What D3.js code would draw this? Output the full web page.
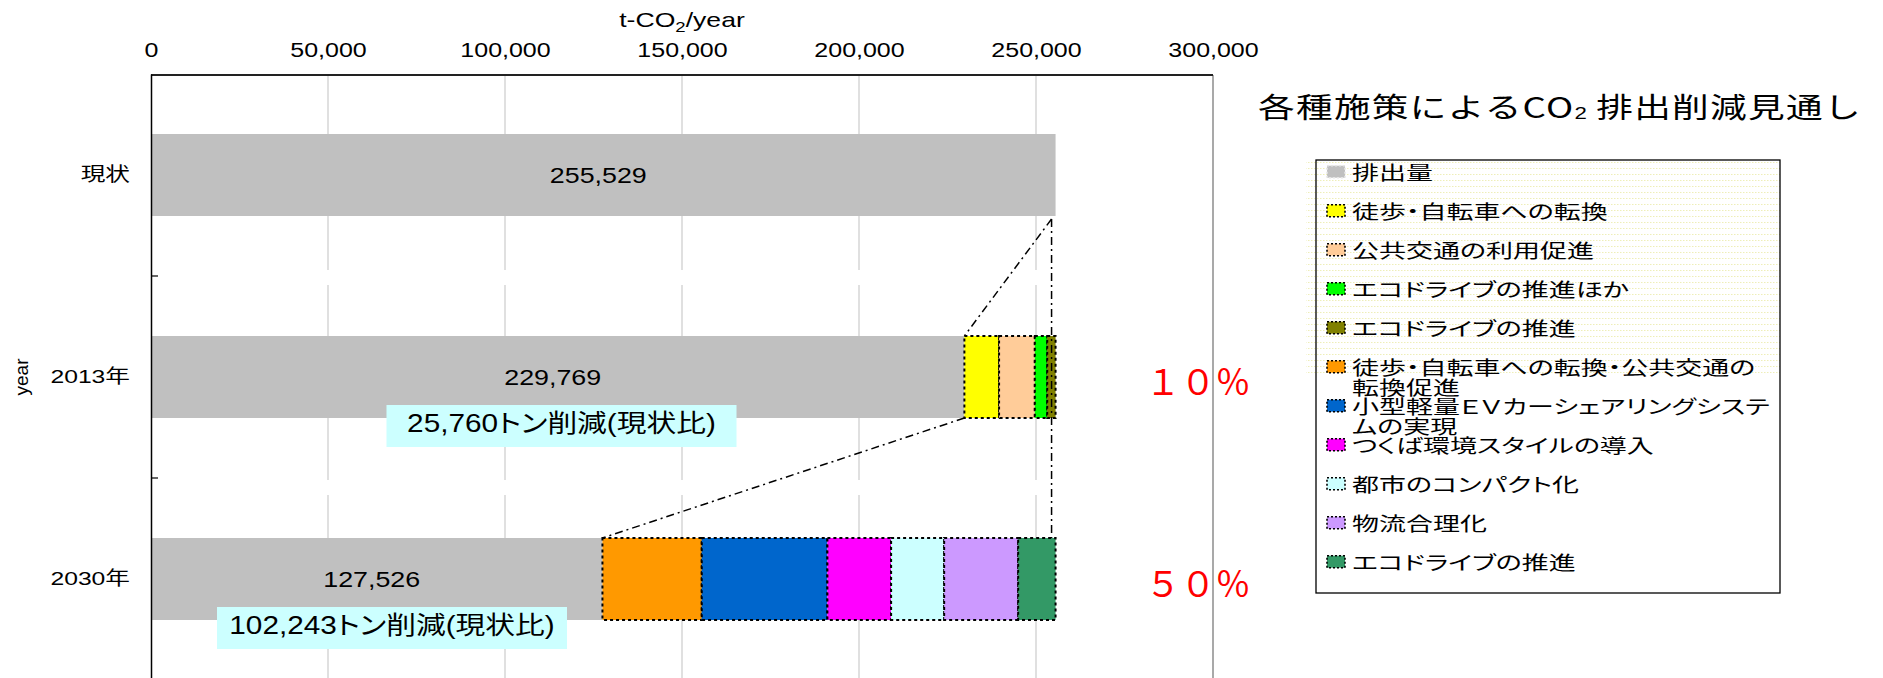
<!DOCTYPE html>
<html><head><meta charset="utf-8">
<script src="https://cdn.jsdelivr.net/npm/d3@7"></script>
<style>
body{margin:0;background:#fff}
svg{display:block}
text{font-family:"Liberation Sans","Noto Sans CJK JP",sans-serif;fill:#000}
.palt{font-feature-settings:"palt" 1}
</style>
</head><body>
<svg id="chart" width="1883" height="678"></svg>
<script>
// ---------------- data ----------------
const categories = ["現状", "2013年", "2030年"];
const xTickValues = [0, 50000, 100000, 150000, 200000, 250000, 300000];

const seriesNames = [
  "排出量",
  "徒歩・自転車への転換",
  "公共交通の利用促進",
  "エコドライブの推進ほか",
  "エコドライブの推進",
  "徒歩・自転車への転換・公共交通の\n転換促進",
  "小型軽量ＥＶカーシェアリングシステ\nムの実現",
  "つくば環境スタイルの導入",
  "都市のコンパクト化",
  "物流合理化",
  "エコドライブの推進"
];
const seriesColors = ["#c0c0c0", "#ffff00", "#ffcc99", "#00ff00", "#808000",
  "#ff9900", "#0066cc", "#ff00ff", "#ccffff", "#cc99ff", "#339966"];

const emissions        = [255529, 229769, 127526];
const walkBike         = [0, 9800, 0];
const publicTransit    = [0, 10100, 0];
const ecoDriveEtc      = [0, 3500, 0];
const ecoDrive2013     = [0, 2360, 0];
const walkTransitShift = [0, 0, 28050];
const evCarSharing     = [0, 0, 35497];
const tsukubaStyle     = [0, 0, 17998];
const compactCity      = [0, 0, 14983];
const logistics        = [0, 0, 20903];
const ecoDrive2030     = [0, 0, 10572];

const reductionLabels = ["", "25,760トン削減(現状比)", "102,243トン削減(現状比)"];
const reductionLabelAt = [null, 115960, 68080];   // x position in data units
const percentLabels = ["", "１０％", "５０％"];
const percentLabelAt = 295800;                    // x position in data units

const titleText = ["各種施策によるCO", "2", "排出削減見通し"];
const xAxisTitle = ["t-CO", "2", "/year"];
const yAxisTitle = "year";

// ---------------- chart ----------------
const seriesValues = [emissions, walkBike, publicTransit, ecoDriveEtc, ecoDrive2013,
  walkTransitShift, evCarSharing, tsukubaStyle, compactCity, logistics, ecoDrive2030];

const svg = d3.select("#chart");
const x = d3.scaleLinear().domain([0, 300000]).range([151, 1213]);
const y = d3.scaleBand().domain(categories).range([74, 680]).paddingInner(0.594).paddingOuter(0.297);
const bw = y.bandwidth();
const plotTop = 75, plotBottom = 680;

// gridlines
svg.append("g").selectAll("line")
  .data(xTickValues.filter(v => v > 0 && v < 300000))
  .join("line")
  .attr("x1", d => x(d)).attr("x2", d => x(d))
  .attr("y1", plotTop).attr("y2", plotBottom)
  .attr("stroke", "#d0d0d0").attr("stroke-width", 1.3)
  .attr("stroke-dasharray", "90,15");

// stacked segments
const segs = [];
categories.forEach((c, ci) => {
  let acc = 0;
  seriesValues.forEach((arr, si) => {
    const v = arr[ci];
    if (v > 0) segs.push({ c, ci, si, x0: acc, x1: acc + v });
    acc += v;
  });
});
svg.append("g").selectAll("rect")
  .data(segs)
  .join("rect")
  .attr("x", d => x(d.x0))
  .attr("y", d => y(d.c))
  .attr("width", d => x(d.x1) - x(d.x0))
  .attr("height", bw)
  .attr("fill", d => seriesColors[d.si])
  .attr("stroke", d => d.si === 0 ? "none" : "#000")
  .attr("stroke-width", 2)
  .attr("stroke-dasharray", "3,3");

// leader lines (dash-dot)
const total = seriesValues.reduce((s, a) => s + a[0], 0);
const yc = c => y(c) + bw / 2;
const lead = svg.append("g").attr("stroke", "#000").attr("stroke-width", 1.5)
  .attr("stroke-dasharray", "8,4,2,4").attr("fill", "none");
lead.append("line")
  .attr("x1", x(total) - 4).attr("y1", y(categories[0]) + bw + 3)
  .attr("x2", x(total) - 4).attr("y2", y(categories[2]));
lead.append("line")
  .attr("x1", x(total) - 4).attr("y1", y(categories[0]) + bw + 3)
  .attr("x2", x(emissions[1])).attr("y2", y(categories[1]));
lead.append("line")
  .attr("x1", x(emissions[1])).attr("y1", y(categories[1]) + bw)
  .attr("x2", x(emissions[2])).attr("y2", y(categories[2]));

// value labels on grey bars
svg.append("g").selectAll("text")
  .data(categories)
  .join("text")
  .attr("transform", (c, i) => `translate(${(x(0) + x(emissions[i])) / 2 - 5},${yc(c)}) scale(1.22,1)`)
  .attr("text-anchor", "middle").attr("dominant-baseline", "central")
  .attr("font-size", 22)
  .text((c, i) => d3.format(",")(emissions[i]));

// reduction annotation boxes
const redG = svg.append("g");
const redTexts = [];
categories.forEach((c, i) => {
  if (!reductionLabels[i]) return;
  const cx = x(reductionLabelAt[i]);
  const by = yc(c) + 28;
  redG.append("rect").attr("x", cx - 175).attr("y", by).attr("width", 350).attr("height", 42)
    .attr("fill", "#ccffff");
  const t = redG.append("text")
    .attr("class", "palt")
    .attr("text-anchor", "middle").attr("dominant-baseline", "central")
    .attr("font-size", 25)
    .text(reductionLabels[i]);
  redTexts.push({ t, cx, cy: by + 18 });
});
const redK = 309 / redTexts[0].t.node().getComputedTextLength();
redTexts.forEach(o => o.t.attr("transform", `translate(${o.cx},${o.cy}) scale(${redK},1)`));

// percent labels
svg.append("g").selectAll("text")
  .data(categories.filter((c, i) => percentLabels[i] !== ""))
  .join("text")
  .attr("x", x(percentLabelAt))
  .attr("y", c => yc(c) + 2)
  .attr("text-anchor", "middle").attr("dominant-baseline", "central")
  .attr("font-size", 35)
  .style("font-family", "'Noto Sans CJK JP',sans-serif")
  .style("fill", "#ff0000")
  .text(c => percentLabels[categories.indexOf(c)]);

// frame
svg.append("line").attr("x1", x(300000)).attr("x2", x(300000)).attr("y1", plotTop).attr("y2", plotBottom)
  .attr("stroke", "#8c8c8c").attr("stroke-width", 1.5);
svg.append("line").attr("x1", x(0)).attr("x2", x(300000)).attr("y1", plotTop).attr("y2", plotTop)
  .attr("stroke", "#222").attr("stroke-width", 2.2);

// top axis (labels only)
const xAxis = svg.append("g").attr("transform", `translate(0,${plotTop})`)
  .call(d3.axisTop(x).tickValues(xTickValues).tickFormat(d3.format(",")).tickSize(0).tickPadding(18));
xAxis.attr("font-family", null).attr("font-size", null);
xAxis.select(".domain").remove();
xAxis.selectAll("text").attr("font-size", 20).attr("transform", "scale(1.25,1)");

// left axis
const yAxis = svg.append("g").attr("transform", `translate(${x(0)},0)`)
  .call(d3.axisLeft(y).tickSize(0).tickSizeOuter(0).tickPadding(0));
yAxis.attr("font-family", null).attr("font-size", null);
yAxis.select(".domain").attr("stroke", "#000").attr("stroke-width", 1.5);
yAxis.selectAll("text").attr("font-size", 19)
  .attr("x", -21 / 1.3).attr("transform", "scale(1.3,1)");
// band boundary ticks
svg.append("g").selectAll("line")
  .data(categories.slice(1))
  .join("line")
  .attr("x1", x(0)).attr("x2", x(0) + 7)
  .attr("y1", c => y(c) - y.step() * y.paddingInner() / 2)
  .attr("y2", c => y(c) - y.step() * y.paddingInner() / 2)
  .attr("stroke", "#000").attr("stroke-width", 1.2);

// axis titles
const xt = svg.append("text")
  .attr("transform", `translate(${(x(0) + x(300000)) / 2},27) scale(1.33,1)`)
  .attr("text-anchor", "middle").attr("font-size", 20);
xt.append("tspan").text(xAxisTitle[0]);
xt.append("tspan").attr("font-size", 14).attr("dy", 5).text(xAxisTitle[1]);
xt.append("tspan").attr("dy", -5).text(xAxisTitle[2]);

svg.append("text")
  .attr("transform", `translate(21,${yc(categories[1])}) rotate(-90)`)
  .attr("text-anchor", "middle").attr("dominant-baseline", "central")
  .attr("font-size", 19).text(yAxisTitle);

// title
const tg = svg.append("text")
  .attr("transform", "translate(1258,105)")
  .attr("dominant-baseline", "central")
  .attr("font-size", 28).attr("letter-spacing", 1)
  .style("font-family", "'Noto Sans CJK JP','Liberation Sans',sans-serif");
tg.append("tspan").text(titleText[0]);
tg.append("tspan").attr("font-size", 17).attr("dy", 8).style("font-family", "'Liberation Sans'").text(titleText[1]);
tg.append("tspan").attr("dy", -8).attr("dx", 6).text(titleText[2]);
const tw = tg.node().getBBox().width;
tg.attr("transform", `translate(1258,105) scale(${604 / tw},1)`);

// legend
const defs = svg.append("defs");
const pat = defs.append("pattern").attr("id", "dots").attr("patternUnits", "userSpaceOnUse")
  .attr("width", 3).attr("height", 6);
pat.append("rect").attr("width", 1.5).attr("height", 1).attr("fill", "#eeeeb8");

const lg = svg.append("g");
lg.append("rect").attr("x", 1316).attr("y", 160).attr("width", 464).attr("height", 433).attr("fill", "#fff");
lg.append("rect").attr("x", 1306).attr("y", 160).attr("width", 474).attr("height", 214)
  .attr("fill", "url(#dots)");
lg.append("rect").attr("x", 1316).attr("y", 160).attr("width", 464).attr("height", 433)
  .attr("fill", "none").attr("stroke", "#000").attr("stroke-width", 1.3);

const items = lg.selectAll("g.item").data(seriesNames).join("g").attr("class", "item")
  .attr("transform", (d, i) => `translate(1327,${171.7 + i * 39})`);
items.append("rect")
  .attr("x", 0).attr("y", -6).attr("width", 18).attr("height", 12)
  .attr("fill", (d, i) => seriesColors[i])
  .attr("stroke", (d, i) => i === 0 ? "#e6e6e6" : "#000")
  .attr("stroke-width", 1.6).attr("stroke-dasharray", "2,2");
const legTexts = [];
items.each(function (d) {
  const g = d3.select(this);
  d.split("\n").forEach((line, j) => {
    const t = g.append("text")
      .attr("class", "palt")
      .attr("dominant-baseline", "central")
      .attr("font-size", 19)
      .style("font-family", "'Noto Sans CJK JP',sans-serif")
      .text(line);
    legTexts.push({ t, dy: j * 20 });
  });
});
const maxLeg = d3.max(legTexts, o => o.t.node().getComputedTextLength());
const legK = 418 / maxLeg;
legTexts.forEach(o => o.t.attr("transform", `translate(25,${o.dy}) scale(${legK},1)`));
</script>
</body></html>
